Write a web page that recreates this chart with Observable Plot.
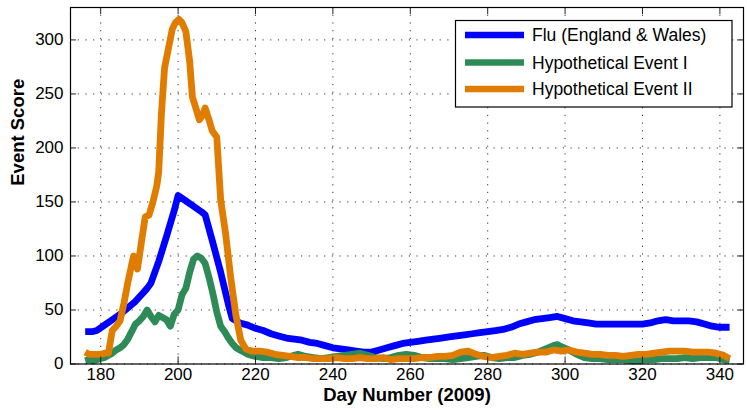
<!DOCTYPE html>
<html>
<head>
<meta charset="utf-8">
<script src="https://cdn.jsdelivr.net/npm/d3@7"></script>
<script src="https://cdn.jsdelivr.net/npm/@observablehq/plot@0.6"></script>
<style>
  html, body { margin: 0; padding: 0; background: #fff; }
  #chart { position: relative; width: 747px; height: 410px; }
</style>
</head>
<body>
<div id="chart"></div>
<script>
// ---- data ----
const seriesNames = ["Flu (England & Wales)", "Hypothetical Event I", "Hypothetical Event II"];
const seriesColors = ["#0000ff", "#2e8b57", "#e07c00"];

const fluDay = [176,178,179,181,183,185,187,189,190,191,192,193,195,197,199,200,202,204,206,207,209,211,213,214,216,218,220,222,224,226,228,230,232,234,236,238,240,242,244,246,248,250,252,254,256,258,260,262,264,266,268,270,272,274,276,278,280,282,284,286,288,290,292,294,296,298,300,302,304,306,308,310,312,314,316,318,320,322,324,326,328,330,332,334,336,338,340,342.5];
const fluVal = [30,30,31,36,41,46,52,58,62,66,70,75,95,118,142,156,151,146,141,138,112,85,55,42,38,36,33,31,28,26,24,23,22,20,19,17,15,14,13,12,11,11,13,15,17,19,20,21,22,23,24,25,26,27,28,29,30,31,32,34,37,39,41,42,43,44,42,40,39,38,37,37,37,37,37,37,37,38,40,41,40,40,40,39,37,35,34,34];

const ev1Day = [176,177,178,179,180,181,182,183,184,185,186,187,188,189,190,191,192,193,194,195,196,197,198,199,200,201,202,203,204,205,206,207,208,209,210,211,212,213,214,215,216,217,218,219,220,222,224,226,228,230,231,233,235,237,239,241,243,245,247,249,251,253,255,257,259,261,263,265,267,269,271,273,275,277,279,281,283,285,287,289,291,293,295,297,298,299,301,303,305,307,309,311,313,315,317,319,321,323,325,327,329,331,333,335,337,339,341,342.5];
const ev1Val = [3,4,3,4,5,6,8,10,13,15,18,23,30,37,40,44,50,44,39,45,43,41,35,46,50,64,70,85,97,100,98,93,80,65,48,35,30,24,19,15,13,11,9,8,7,6,6,5,6,8,9,7,6,5,6,7,8,9,10,8,6,5,6,8,9,8,6,5,5,5,4,5,6,7,8,6,5,6,6,8,9,11,14,17,18,16,13,9,6,5,5,4,4,4,3,3,4,4,5,5,5,6,5,6,6,6,4,3];

const ev2Day = [176,177,178,179,180,181,182,183,184,185,186,187,188,188.5,189.5,190.5,191.5,192.5,193.5,194.5,195,195.7,196.5,197.5,198.5,199.3,200.2,201,202,203,203.7,204.5,205.5,206.3,207,208,208.8,210,211,212.3,213.6,214.9,216.2,217.5,219,221,223,225,227,229,231,233,235,237,239,241,243,245,247,249,251,253,255,257,259,261,263,265,267,269,271,273,275,277,279,281,283,285,287,289,291,293,295,297,299,301,303,305,307,309,311,313,315,317,319,321,323,325,327,329,331,333,335,337,339,341,342.5];
const ev2Val = [11,9,9,9,9,10,10,31,35,40,56,75,92,100,88,112,136,138,150,165,178,232,274,292,310,316,319,316,308,280,247,238,226,230,237,226,216,210,152,120,80,46,22,14,12,12,11,9,8,7,6,6,5,5,5,6,5,5,6,5,5,6,4,5,5,5,6,6,7,7,8,11,12,9,7,6,7,8,10,9,10,11,11,13,12,13,11,10,9,9,8,8,7,8,9,9,10,11,12,12,12,11,11,11,10,8,5];

const xTicks = [180,200,220,240,260,280,300,320,340];
const yTicks = [0,50,100,150,200,250,300];

// ---- build table ----
const rows = [];
[[fluDay, fluVal], [ev1Day, ev1Val], [ev2Day, ev2Val]].forEach(([ds, vs], i) => {
  ds.forEach((d, j) => rows.push({series: seriesNames[i], day: d, value: vs[j]}));
});

const W = 747, H = 410;
const mL = 70, mR = 4, mT = 7, mB = 46.5;
const innerW = W - mL - mR, innerH = H - mT - mB;
const tickLen = 7;
const font = "'Liberation Sans', Arial, Helvetica, sans-serif";

const lineMarks = seriesNames.map((s, i) =>
  Plot.line(rows.filter(r => r.series === s), {
    x: "day", y: "value", stroke: seriesColors[i], strokeWidth: 6.8,
    strokeLinejoin: "round", strokeLinecap: "butt"
  })
);

const chart = Plot.plot({
  width: W, height: H,
  marginLeft: mL, marginRight: mR, marginTop: mT, marginBottom: mB,
  style: {fontFamily: font, fontSize: "17px", color: "#000", background: "#fff", overflow: "visible"},
  x: {domain: [172.2, 346.1]},
  y: {domain: [0, 330]},
  marks: [
    Plot.ruleX(xTicks, {stroke: "#333", strokeWidth: 1, strokeDasharray: "1.2,6.5"}),
    Plot.ruleY(yTicks, {stroke: "#333", strokeWidth: 1, strokeDasharray: "1.2,6.5"}),
    ...lineMarks,
    Plot.tickX(xTicks, {x: d => d, stroke: "#222", insetTop: innerH - tickLen}),
    Plot.tickX(xTicks, {x: d => d, stroke: "#222", insetBottom: innerH - tickLen}),
    Plot.tickY(yTicks, {y: d => d, stroke: "#222", insetRight: innerW - 6}),
    Plot.tickY(yTicks, {y: d => d, stroke: "#222", insetLeft: innerW - 6}),
    Plot.frame({stroke: "#000", strokeWidth: 1.2}),
    Plot.axisX(xTicks, {tickSize: 0, tickPadding: 4, label: null, fontSize: 17}),
    Plot.axisY(yTicks, {tickSize: 0, tickPadding: 7, label: null, fontSize: 17}),
    Plot.text(["Day Number (2009)"], {frameAnchor: "bottom", lineAnchor: "middle", dy: 31, fontWeight: "bold", fontSize: 18.5, fill: "#000"}),
    Plot.text(["Event Score"], {frameAnchor: "left", lineAnchor: "middle", dx: -52, rotate: -90, fontWeight: "bold", fontSize: 18.5, fill: "#000"})
  ]
});

// ---- legend (inside plot, upper right) ----
const svg = d3.select(chart);
const lg = svg.append("g").attr("font-family", font).attr("font-size", 17.5).attr("text-anchor", "start");
lg.append("rect").attr("x", 455.5).attr("y", 20.5).attr("width", 276.5).attr("height", 86.5)
  .attr("fill", "#fff").attr("stroke", "#000").attr("stroke-width", 1.2);
const rowY = [35, 62.5, 89];
seriesNames.forEach((s, i) => {
  lg.append("line").attr("x1", 465).attr("x2", 524).attr("y1", rowY[i]).attr("y2", rowY[i])
    .attr("stroke", seriesColors[i]).attr("stroke-width", 6.5);
  lg.append("text").attr("x", 532).attr("y", rowY[i]).attr("dy", "0.35em")
    .attr("text-anchor", "start").attr("fill", "#000").text(s);
});

document.getElementById("chart").appendChild(chart);
</script>
</body>
</html>
